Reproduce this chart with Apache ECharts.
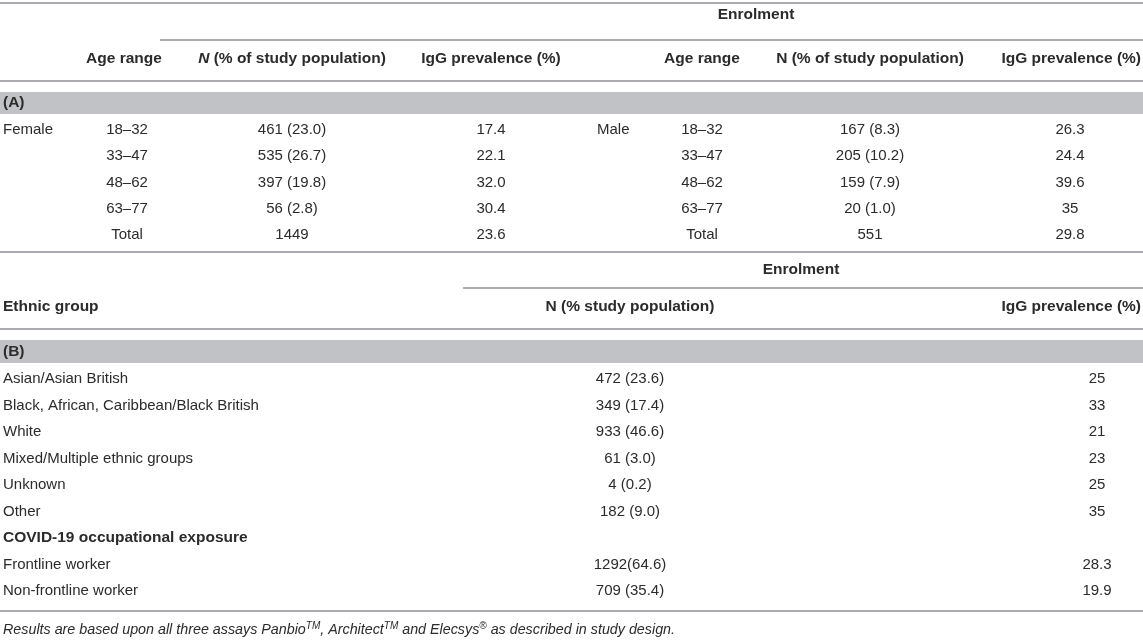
<!DOCTYPE html>
<html>
<head>
<meta charset="utf-8">
<title>Enrolment and IgG prevalence</title>
<script src="https://cdn.jsdelivr.net/npm/echarts@6/dist/echarts.min.js"></script>
<style>
  html, body { margin: 0; padding: 0; background: #fff; }
  #tbl { width: 1143px; height: 642px; }
</style>
</head>
<body>
<div id="tbl"></div>
<script>
// Table (A): enrolment by sex and age range
var ageRanges = ["18–32", "33–47", "48–62", "63–77", "Total"];
var femaleN = ["461 (23.0)", "535 (26.7)", "397 (19.8)", "56 (2.8)", "1449"];
var femaleIgG = ["17.4", "22.1", "32.0", "30.4", "23.6"];
var maleN = ["167 (8.3)", "205 (10.2)", "159 (7.9)", "20 (1.0)", "551"];
var maleIgG = ["26.3", "24.4", "39.6", "35", "29.8"];

// Table (B): ethnic group and occupational exposure
var ethnicGroups = ["Asian/Asian British", "Black, African, Caribbean/Black British", "White",
  "Mixed/Multiple ethnic groups", "Unknown", "Other"];
var ethnicN = ["472 (23.6)", "349 (17.4)", "933 (46.6)", "61 (3.0)", "4 (0.2)", "182 (9.0)"];
var ethnicIgG = ["25", "33", "21", "23", "25", "35"];
var exposureGroups = ["Frontline worker", "Non-frontline worker"];
var exposureN = ["1292(64.6)", "709 (35.4)"];
var exposureIgG = ["28.3", "19.9"];

(function () {
  var FONT = "'Liberation Sans', Arial, Helvetica, sans-serif";
  var INK = "#2b2b2b";
  var RULE = "#a9abae";
  var BAND = "#c1c2c5";
  var W = 1143;
  var ROW_A = 26.3;
  var ROW_B = 26.5;
  var BODY = 15;
  var HEAD = 15.5;

  var els = [];

  function txt(x, y, s, opts) {
    opts = opts || {};
    var size = opts.size || (opts.bold ? HEAD : BODY);
    els.push({
      type: "text",
      x: x, y: y,
      style: {
        text: s,
        fill: INK,
        font: (opts.italic ? "italic " : "") + (opts.bold ? "bold " : "") + size + "px " + FONT,
        textAlign: opts.align || "left",
        textVerticalAlign: "middle",
        rich: opts.rich
      }
    });
  }
  function rule(x1, x2, y) {
    els.push({ type: "line", shape: { x1: x1, y1: y, x2: x2, y2: y },
      style: { stroke: RULE, lineWidth: 2 } });
  }
  function band(y, h) {
    els.push({ type: "rect", shape: { x: 0, y: y, width: W, height: h }, style: { fill: BAND } });
  }

  // ---- table A ----
  rule(0, W, 3);
  txt(756, 15, "Enrolment", { bold: true, align: "center" });
  rule(160, W, 40);
  var hy = 59;
  var nRich = { i: { fontStyle: "italic", fontWeight: "bold", fontSize: HEAD, fontFamily: FONT, fill: INK } };
  txt(124, hy, "Age range", { bold: true, align: "center" });
  txt(292, hy, "{i|N} (% of study population)", { bold: true, align: "center", rich: nRich });
  txt(491, hy, "IgG prevalence (%)", { bold: true, align: "center" });
  txt(702, hy, "Age range", { bold: true, align: "center" });
  txt(870, hy, "N (% of study population)", { bold: true, align: "center" });
  txt(1141, hy, "IgG prevalence (%)", { bold: true, align: "right" });
  rule(0, W, 81);
  band(92, 22);
  txt(3, 103, "(A)", { bold: true });

  var y0 = 130;
  txt(3, y0, "Female");
  txt(597, y0, "Male");
  ageRanges.forEach(function (a, i) {
    var y = y0 + i * ROW_A;
    txt(127, y, a, { align: "center" });
    txt(292, y, femaleN[i], { align: "center" });
    txt(491, y, femaleIgG[i], { align: "center" });
    txt(702, y, a, { align: "center" });
    txt(870, y, maleN[i], { align: "center" });
    txt(1070, y, maleIgG[i], { align: "center" });
  });
  rule(0, W, 252);

  // ---- table B ----
  txt(801, 270, "Enrolment", { bold: true, align: "center" });
  rule(463, W, 288);
  txt(3, 307, "Ethnic group", { bold: true });
  txt(630, 307, "N (% study population)", { bold: true, align: "center" });
  txt(1141, 307, "IgG prevalence (%)", { bold: true, align: "right" });
  rule(0, W, 329);
  band(340, 23);
  txt(3, 352, "(B)", { bold: true });

  var y1 = 379;
  ethnicGroups.forEach(function (g, i) {
    var y = y1 + i * ROW_B;
    txt(3, y, g);
    txt(630, y, ethnicN[i], { align: "center" });
    txt(1097, y, ethnicIgG[i], { align: "center" });
  });
  var yc = y1 + ethnicGroups.length * ROW_B;
  txt(3, yc, "COVID-19 occupational exposure", { bold: true });
  exposureGroups.forEach(function (g, i) {
    var y = yc + (i + 1) * ROW_B;
    txt(3, y, g);
    txt(630, y, exposureN[i], { align: "center" });
    txt(1097, y, exposureIgG[i], { align: "center" });
  });
  rule(0, W, 611);

  // footnote with superscripts
  var sup = { fontSize: 10, fontStyle: "italic", fontFamily: FONT, fill: INK, verticalAlign: "top", lineHeight: 18 };
  txt(3, 630, "Results are based upon all three assays Panbio{s|TM}, Architect{s|TM} and Elecsys{s|®} as described in study design.",
    { italic: true, size: 14.3, rich: { s: sup } });

  var chart = echarts.init(document.getElementById("tbl"), null, { renderer: "canvas" });
  chart.setOption({
    backgroundColor: "#ffffff",
    animation: false,
    graphic: { elements: els }
  });
  window.addEventListener("resize", function () { chart.resize(); });
})();
</script>
</body>
</html>
